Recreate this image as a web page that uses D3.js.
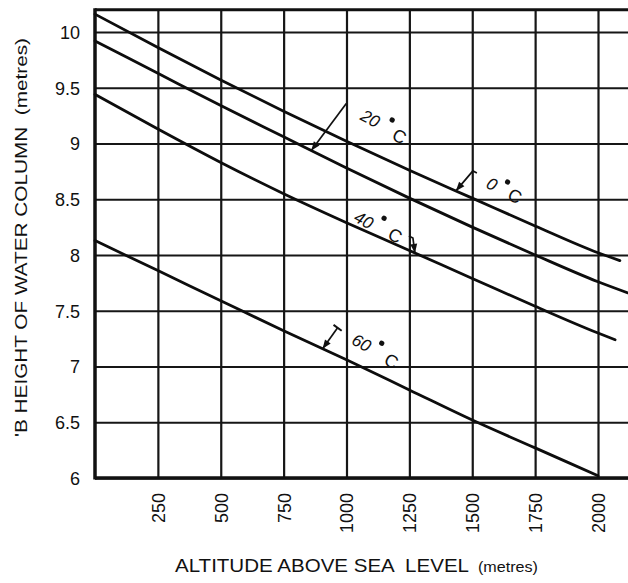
<!DOCTYPE html>
<html>
<head>
<meta charset="utf-8">
<script src="https://cdn.jsdelivr.net/npm/d3@7"></script>
<style>
  html, body { margin: 0; padding: 0; background: #fff; }
  svg { display: block; }
  text { font-family: "Liberation Sans", Arial, Helvetica, sans-serif; fill: #111; white-space: pre; }
</style>
</head>
<body>
<svg id="chart" width="628" height="583"></svg>
<script>
// Altitude grid (metres) and tick labels
const altitudeTicks = [250, 500, 750, 1000, 1250, 1500, 1750, 2000];
const heightTicks = [6, 6.5, 7, 7.5, 8, 8.5, 9, 9.5, 10];

// Altitudes at which each curve is sampled (metres)
const altitudes = [0, 250, 500, 750, 1000, 1250, 1500, 1750, 2000];

// Water column height (metres) per water temperature
const height0C  = [10.16, 9.86, 9.57, 9.29, 9.02, 8.76, 8.51, 8.26, 8.02];
const height20C = [9.92, 9.63, 9.34, 9.06, 8.78, 8.51, 8.25, 8.00, 7.76];
const height40C = [9.44, 9.13, 8.83, 8.55, 8.29, 8.04, 7.79, 7.54, 7.30];
const height60C = [8.13, 7.86, 7.59, 7.32, 7.06, 6.79, 6.52, 6.27, 6.02];

// Where each curve runs out past the last grid line
const tailAltitude = [2087, 2119, 2068, null];
const tailHeight   = [7.95, 7.66, 7.24, null];

const temperatureNames = ["0", "20", "40", "60"];

const W = 628, H = 583;
const svg = d3.select("#chart");

const x = d3.scaleLinear().domain([0, 2000]).range([95, 598]);
const y = d3.scaleLinear().domain([6, 10]).range([478, 32]);
const yTop = 10.2;
const xLeft = x(0), xRight = W, yBottom = y(6), yTopPx = y(yTop);

// ---- grid via axes ----
const yAxis = d3.axisLeft(y)
  .tickValues(heightTicks)
  .tickSize(-(xRight - xLeft))
  .tickPadding(15)
  .tickFormat(d => String(d));

const gy = svg.append("g").attr("transform", `translate(${xLeft},0)`).call(yAxis);
gy.select(".domain").remove();
gy.selectAll(".tick line").attr("stroke", "#161616").attr("stroke-width", 2.2);
gy.selectAll(".tick text")
  .attr("font-size", 18)
  .attr("dy", "0.35em")
  .attr("fill", "#111");

const xAxis = d3.axisBottom(x)
  .tickValues(altitudeTicks)
  .tickSize(-(yBottom - yTopPx))
  .tickFormat(d => String(d));

const gx = svg.append("g").attr("transform", `translate(0,${yBottom})`).call(xAxis);
gx.select(".domain").remove();
gx.selectAll(".tick line").attr("stroke", "#161616").attr("stroke-width", 2.2);
gx.selectAll(".tick text")
  .attr("font-size", 18)
  .attr("transform", "rotate(-90)")
  .attr("x", -15)
  .attr("y", 0)
  .attr("dy", "0.36em")
  .attr("text-anchor", "end")
  .attr("fill", "#111");

// ---- frame: left, bottom and top borders ----
const frame = svg.append("g").attr("stroke", "#111").attr("fill", "none");
frame.append("line").attr("x1", xLeft).attr("x2", xLeft)
  .attr("y1", yTopPx - 1.5).attr("y2", yBottom + 1.5).attr("stroke-width", 3.5);
frame.append("line").attr("x1", xLeft).attr("x2", xRight)
  .attr("y1", yBottom).attr("y2", yBottom).attr("stroke-width", 3.5);
frame.append("line").attr("x1", xLeft).attr("x2", xRight)
  .attr("y1", yTopPx).attr("y2", yTopPx).attr("stroke-width", 3);

// ---- curves ----
const seriesValues = [height0C, height20C, height40C, height60C];
const series = seriesValues.map((vals, i) => {
  const pts = altitudes.map((a, j) => [a, vals[j]]);
  if (tailAltitude[i] != null) pts.push([tailAltitude[i], tailHeight[i]]);
  return pts;
});

const line = d3.line()
  .x(d => x(d[0]))
  .y(d => y(d[1]))
  .curve(d3.curveMonotoneX);

svg.append("g").selectAll("path").data(series).join("path")
  .attr("d", line)
  .attr("fill", "none")
  .attr("stroke", "#0d0d0d")
  .attr("stroke-width", 2.8)
  .attr("stroke-linecap", "round");

// ---- temperature labels with leaders ----
// at: altitude where the leader touches the curve
// tail: leader start relative to the touch point; num: label centre relative to touch point
const labelSpecs = [
  { at: 1435, tail: [17, -20], hook: [4, 2], num: [36, -7], dot: [13, -9], c: [26, 0] },
  { at: 860,  tail: [35, -47], hook: [0, 0],  num: [59, -32], dot: [20, -9], c: [34, 2] },
  { at: 1272, tail: [-2, -15], hook: [-4, -2], num: [-51, -33], dot: [17, -11], c: [35, -1] },
  { at: 905,  tail: [15, -21], hook: null,   num: [39, -6], dot: [18, -9], c: [35, 2] }
];

const labels = svg.append("g");
labelSpecs.forEach((s, i) => {
  const interp = d3.scaleLinear().domain(altitudes).range(seriesValues[i]);
  const tx = x(s.at), ty = y(interp(s.at));
  const sx = tx + s.tail[0], sy = ty + s.tail[1];

  // leader line
  let d = `M${sx},${sy}L${tx},${ty}`;
  if (s.hook && (s.hook[0] || s.hook[1])) d = `M${sx + s.hook[0]},${sy + s.hook[1]}L${sx},${sy}L${tx},${ty}`;
  labels.append("path").attr("d", d)
    .attr("fill", "none").attr("stroke", "#111").attr("stroke-width", 1.7);

  // T-bar at the start of the leader
  if (s.hook === null) {
    const len = Math.hypot(s.tail[0], s.tail[1]);
    const px = -s.tail[1] / len * 5, py = s.tail[0] / len * 5;
    labels.append("line")
      .attr("x1", sx - px).attr("y1", sy - py).attr("x2", sx + px).attr("y2", sy + py)
      .attr("stroke", "#111").attr("stroke-width", 2);
  }

  // arrowhead at the curve
  const ux = (tx - sx), uy = (ty - sy), ul = Math.hypot(ux, uy);
  const dx = ux / ul, dy = uy / ul;
  const bx = tx - dx * 9, by = ty - dy * 9;
  labels.append("path")
    .attr("d", `M${tx},${ty}L${bx - dy * 3.5},${by + dx * 3.5}L${bx + dy * 3.5},${by - dx * 3.5}Z`)
    .attr("fill", "#111");

  // rotated "NN °C" label
  const g = labels.append("g")
    .attr("transform", `translate(${tx + s.num[0]},${ty + s.num[1]}) rotate(28)`);
  g.append("text").text(temperatureNames[i])
    .attr("font-size", 17).attr("font-style", "italic")
    .attr("text-anchor", "middle").attr("dy", "0.35em");
  g.append("circle").attr("cx", s.dot[0]).attr("cy", s.dot[1]).attr("r", 2.6).attr("fill", "#111");
  g.append("text").text("C")
    .attr("x", s.c[0]).attr("y", s.c[1])
    .attr("font-size", 18)
    .attr("text-anchor", "middle").attr("dy", "0.35em");
});

// ---- axis titles ----
svg.append("text")
  .attr("transform", "translate(27,437) rotate(-90)")
  .attr("font-size", 17)
  .attr("textLength", 399)
  .attr("lengthAdjust", "spacingAndGlyphs")
  .text("'B HEIGHT OF WATER COLUMN  (metres)");

const xt = svg.append("text")
  .attr("x", 175).attr("y", 572)
  .attr("font-size", 18);
xt.append("tspan")
  .attr("textLength", 294)
  .attr("lengthAdjust", "spacingAndGlyphs")
  .text("ALTITUDE ABOVE SEA  LEVEL");
xt.append("tspan")
  .attr("x", 478)
  .attr("font-size", 15)
  .attr("textLength", 60)
  .attr("lengthAdjust", "spacingAndGlyphs")
  .text("(metres)");
</script>
</body>
</html>
